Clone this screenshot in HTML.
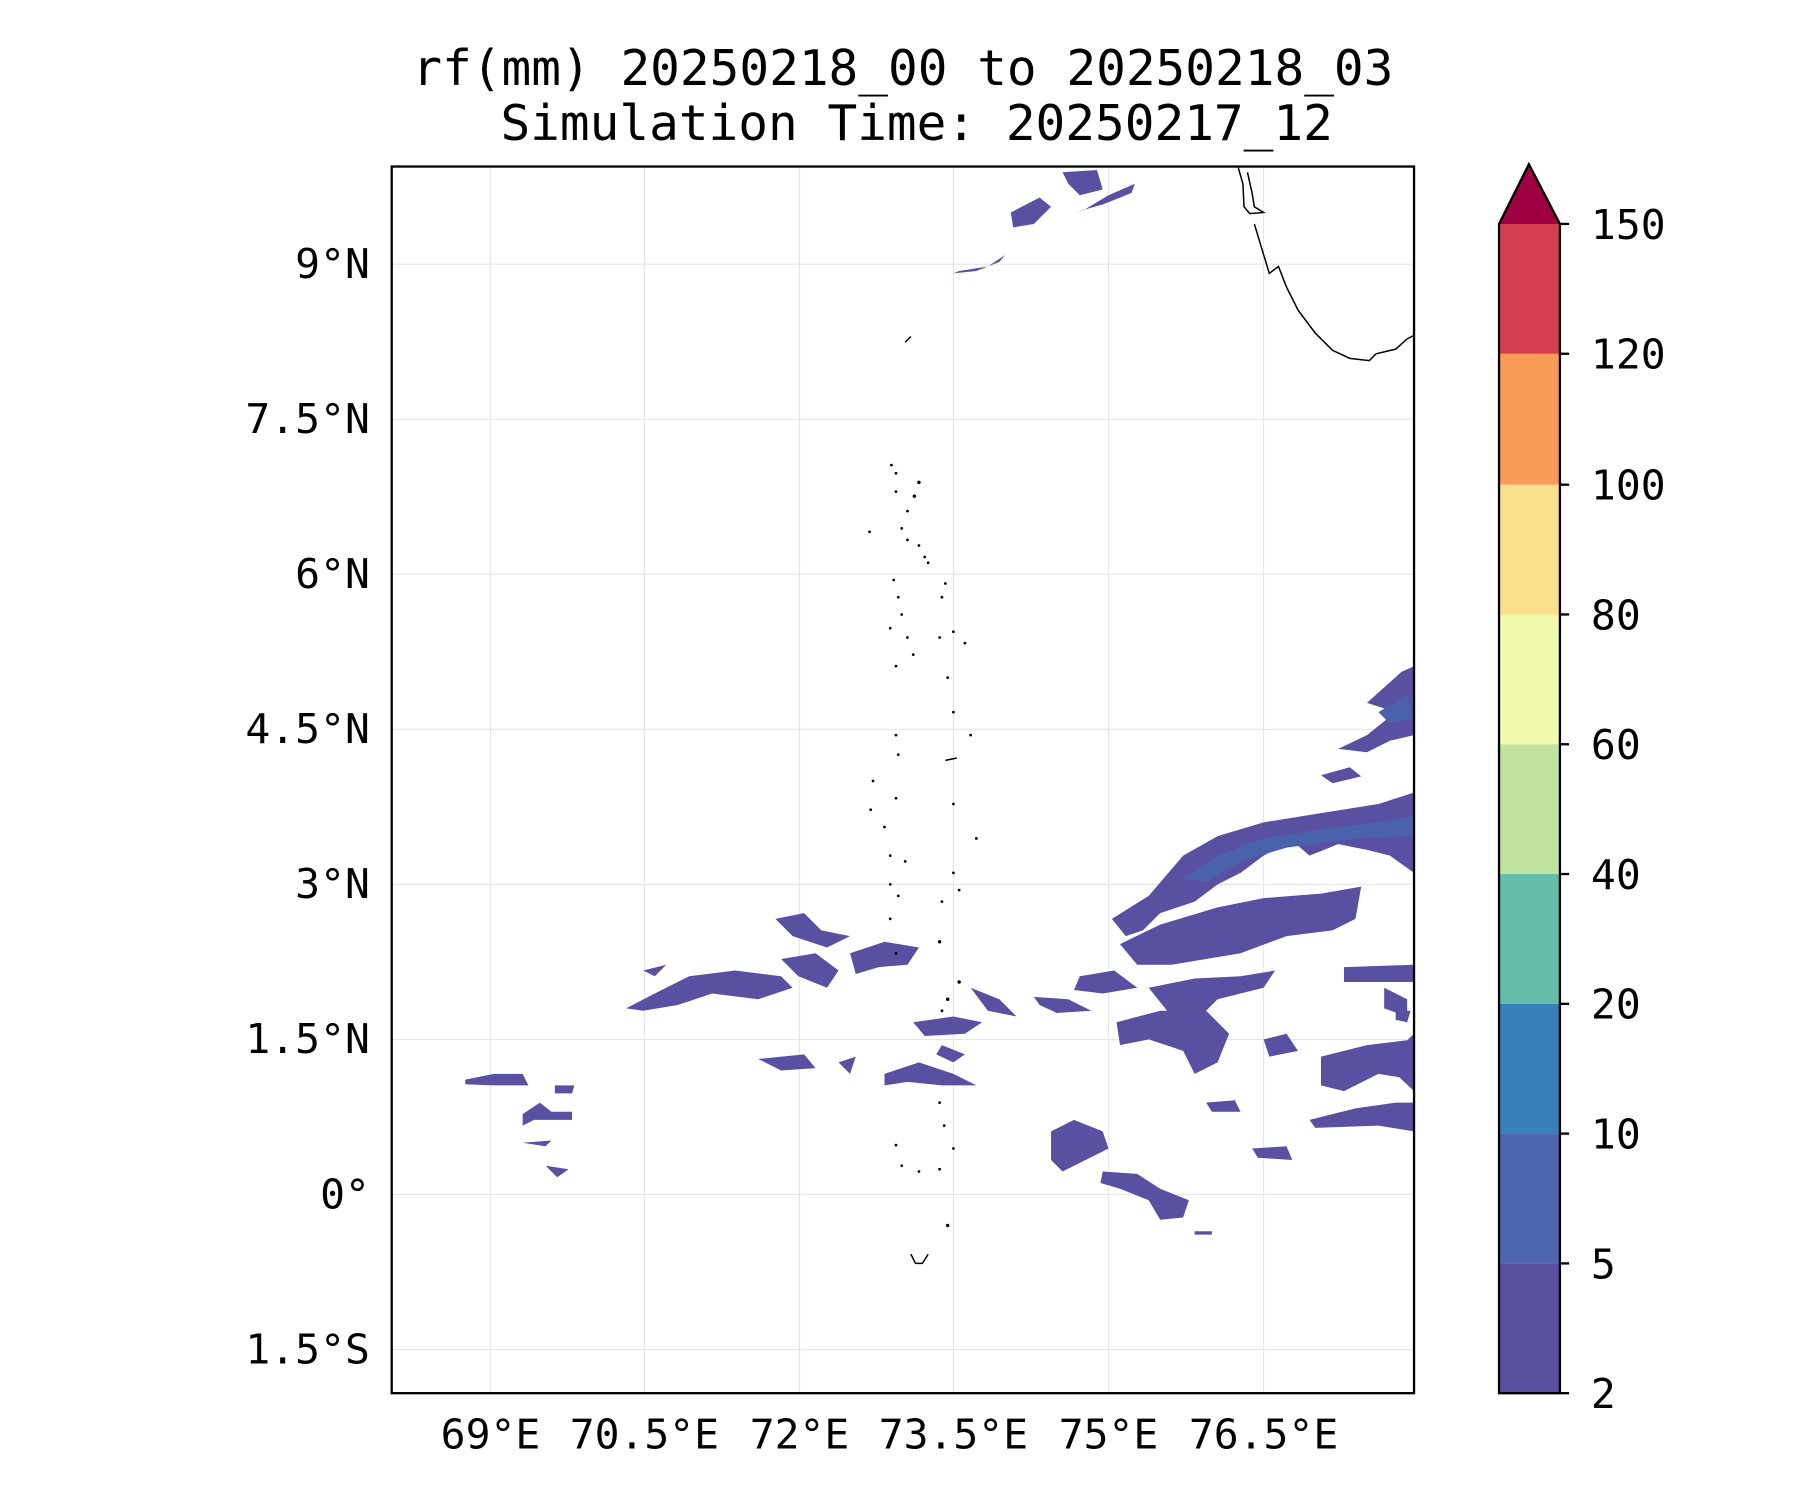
<!DOCTYPE html>
<html><head><meta charset="utf-8"><style>
html,body{margin:0;padding:0;background:#fff;width:1800px;height:1500px;overflow:hidden}
svg{display:block}
text{font-family:"DejaVu Sans Mono","Liberation Mono",monospace;fill:#000}
</style></head><body>
<svg width="1800" height="1500" viewBox="0 0 1567 1306" preserveAspectRatio="none" xmlns="http://www.w3.org/2000/svg">
<rect width="1567" height="1306" fill="#fff"/>
<text x="786" y="74" font-size="43" text-anchor="middle">rf(mm) 20250218_00 to 20250218_03</text>
<text x="798" y="122" font-size="43" text-anchor="middle">Simulation Time: 20250217_12</text>
<g stroke="#e6e6e6" stroke-width="1">
<line x1="427" y1="145" x2="427" y2="1213"/><line x1="561" y1="145" x2="561" y2="1213"/>
<line x1="696" y1="145" x2="696" y2="1213"/><line x1="830" y1="145" x2="830" y2="1213"/>
<line x1="965" y1="145" x2="965" y2="1213"/><line x1="1100" y1="145" x2="1100" y2="1213"/>
<line x1="341" y1="230" x2="1231" y2="230"/><line x1="341" y1="365" x2="1231" y2="365"/>
<line x1="341" y1="500" x2="1231" y2="500"/><line x1="341" y1="635" x2="1231" y2="635"/>
<line x1="341" y1="770" x2="1231" y2="770"/><line x1="341" y1="905" x2="1231" y2="905"/>
<line x1="341" y1="1040" x2="1231" y2="1040"/><line x1="341" y1="1175" x2="1231" y2="1175"/>
</g>
<g fill="#5a50a2">
<path d="M880,185 L905,172 L915,180 L900,195 L882,198Z"/>
<path d="M925,150 L955,148 L960,165 L940,170 L930,160Z"/>
<path d="M935,185 L960,178 L985,168 L988,160 L965,170 L945,182Z"/>
<path d="M830,238 L850,236 L870,228 L875,222 L860,232 L835,236Z"/>
<path d="M1190,612 L1220,585 L1231,580 L1231,640 L1210,645 L1190,655 L1165,652 L1190,640 L1215,620Z"/>
<path d="M1150,675 L1175,668 L1185,676 L1160,682Z"/>
<path d="M968,800 L1000,780 L1030,745 L1060,728 L1100,716 L1150,708 L1200,700 L1231,690 L1231,760 L1210,745 L1190,740 L1165,735 L1140,745 L1125,732 L1100,745 L1080,760 L1060,770 L1040,785 L1010,795 L995,810 L980,815Z"/>
<path d="M975,822 L1010,805 L1060,790 L1100,782 L1150,778 L1185,772 L1180,800 L1160,810 L1120,815 L1080,830 L1050,835 L1020,840 L990,840Z"/>
<path d="M1170,842 L1231,840 L1231,855 L1170,855Z"/>
<path d="M1000,860 L1040,852 L1080,850 L1110,845 L1100,860 L1060,870 L1040,890 L1020,885Z"/>
<path d="M940,850 L970,845 L990,860 L960,865 L935,862Z"/>
<path d="M972,890 L1010,880 L1050,880 L1070,900 L1060,925 L1040,935 L1030,915 L1000,905 L975,910Z"/>
<path d="M1100,905 L1120,900 L1130,915 L1105,920Z"/>
<path d="M1150,920 L1190,910 L1231,905 L1231,940 L1200,935 L1170,950 L1150,945Z"/>
<path d="M1140,975 L1180,965 L1215,960 L1231,960 L1231,985 L1200,980 L1145,982Z"/>
<path d="M1205,860 L1225,870 L1225,885 L1205,878Z"/>
<path d="M1090,1000 L1120,998 L1125,1010 L1095,1008Z"/>
<path d="M1050,960 L1075,958 L1080,968 L1055,968Z"/>
<path d="M675,800 L700,795 L715,810 L740,815 L720,825 L690,815Z"/>
<path d="M740,830 L770,820 L800,825 L790,840 L765,842 L745,848Z"/>
<path d="M680,835 L710,830 L730,845 L720,860 L695,850Z"/>
<path d="M560,845 L580,840 L570,850Z"/>
<path d="M545,878 L570,865 L600,850 L640,845 L680,850 L690,860 L660,870 L620,865 L590,875 L560,880Z"/>
<path d="M795,890 L830,885 L855,890 L840,900 L805,902Z"/>
<path d="M820,910 L840,918 L830,925 L815,918Z"/>
<path d="M845,860 L870,870 L885,885 L860,880Z"/>
<path d="M770,935 L800,925 L830,935 L850,945 L820,945 L790,942 L770,945Z"/>
<path d="M660,922 L700,918 L710,930 L680,932Z"/>
<path d="M730,925 L745,920 L740,935Z"/>
<path d="M900,868 L930,870 L950,880 L920,882 L905,875Z"/>
<path d="M915,985 L935,975 L960,985 L965,1000 L945,1010 L925,1020 L915,1010Z"/>
<path d="M960,1020 L990,1022 L1010,1035 L1035,1045 L1030,1060 L1010,1062 L1000,1045 L975,1035 L958,1030Z"/>
<path d="M405,940 L430,935 L455,935 L460,945 L430,945 L405,944Z"/>
<path d="M455,970 L470,960 L480,968 L498,968 L498,975 L465,975 L455,980Z"/>
<path d="M475,1015 L495,1018 L485,1025Z"/>
<path d="M455,995 L480,993 L475,998Z"/>
<path d="M483,945 L500,945 L498,952 L483,952Z"/>
<path d="M1040,1072 L1055,1072 L1055,1075 L1040,1075Z"/>
<path d="M1215,880 L1228,880 L1225,890 L1215,888Z"/>
<path d="M1210,920 L1231,900 L1231,950 L1215,935Z"/>
</g>
<g fill="#4a62ab">
<path d="M1030,765 L1060,745 L1100,730 L1150,722 L1200,716 L1231,710 L1231,728 L1180,730 L1120,738 L1080,750 L1050,768Z"/>
<path d="M1200,620 L1225,605 L1230,625 L1210,630Z"/>
</g>
<g fill="none" stroke="#000" stroke-width="1.3">
<path d="M1078,146 L1082,160 L1083,180 L1088,186 L1100,185 L1092,180 L1090,168 L1086,150"/>
<path d="M1092,195 L1098,215 L1105,238 L1113,232 L1120,250 L1130,270 L1145,290 L1160,305 L1175,312 L1192,314 L1198,308 L1215,304 L1225,295 L1231,292"/>
<path d="M788,298 L793,293"/>
<path d="M823,662 L833,660"/>
<path d="M793,1092 L797,1100 L803,1100 L808,1092"/>
</g>
<g fill="#000">
<circle cx="776" cy="405" r="1.2"/><circle cx="780" cy="412" r="1.2"/><circle cx="800" cy="420" r="1.5"/><circle cx="796" cy="432" r="1.5"/><circle cx="790" cy="445" r="1.2"/><circle cx="780" cy="428" r="1.2"/><circle cx="757" cy="463" r="1.2"/><circle cx="785" cy="460" r="1.2"/><circle cx="790" cy="470" r="1.2"/><circle cx="800" cy="475" r="1.2"/><circle cx="805" cy="485" r="1.2"/><circle cx="808" cy="490" r="1.2"/>
<circle cx="778" cy="505" r="1.2"/><circle cx="782" cy="520" r="1.2"/><circle cx="785" cy="535" r="1.2"/><circle cx="823" cy="508" r="1.2"/><circle cx="820" cy="520" r="1.2"/><circle cx="775" cy="547" r="1.2"/><circle cx="790" cy="555" r="1.2"/><circle cx="795" cy="570" r="1.2"/><circle cx="780" cy="580" r="1.2"/><circle cx="818" cy="555" r="1.2"/><circle cx="830" cy="550" r="1.2"/><circle cx="840" cy="560" r="1.2"/>
<circle cx="825" cy="590" r="1.2"/><circle cx="830" cy="620" r="1.2"/><circle cx="845" cy="640" r="1.2"/><circle cx="780" cy="640" r="1.2"/><circle cx="782" cy="657" r="1.2"/><circle cx="760" cy="680" r="1.2"/><circle cx="780" cy="695" r="1.2"/><circle cx="758" cy="705" r="1.2"/><circle cx="770" cy="720" r="1.2"/><circle cx="830" cy="700" r="1.2"/><circle cx="850" cy="730" r="1.2"/>
<circle cx="775" cy="745" r="1.2"/><circle cx="788" cy="750" r="1.2"/><circle cx="775" cy="770" r="1.2"/><circle cx="782" cy="780" r="1.2"/><circle cx="830" cy="760" r="1.2"/><circle cx="835" cy="775" r="1.2"/><circle cx="820" cy="785" r="1.2"/><circle cx="775" cy="800" r="1.2"/><circle cx="818" cy="820" r="1.5"/><circle cx="780" cy="830" r="1.2"/><circle cx="835" cy="855" r="1.5"/><circle cx="825" cy="870" r="1.5"/><circle cx="820" cy="880" r="1.2"/>
<circle cx="818" cy="960" r="1.2"/><circle cx="822" cy="980" r="1.2"/><circle cx="830" cy="1000" r="1.2"/><circle cx="780" cy="997" r="1.2"/><circle cx="785" cy="1015" r="1.2"/><circle cx="800" cy="1020" r="1.2"/><circle cx="818" cy="1018" r="1.2"/><circle cx="825" cy="1067" r="1.5"/>
</g>
<rect x="341" y="145" width="890" height="1068" fill="none" stroke="#000" stroke-width="2"/>
<g font-size="36" text-anchor="end">
<text x="322" y="242">9°N</text><text x="322" y="377">7.5°N</text><text x="322" y="512">6°N</text><text x="322" y="647">4.5°N</text><text x="322" y="782">3°N</text><text x="322" y="917">1.5°N</text><text x="322" y="1052">0°</text><text x="322" y="1187">1.5°S</text>
</g>
<g font-size="36" text-anchor="middle">
<text x="427" y="1261">69°E</text><text x="561" y="1261">70.5°E</text><text x="696" y="1261">72°E</text><text x="830" y="1261">73.5°E</text><text x="965" y="1261">75°E</text><text x="1100" y="1261">76.5°E</text>
</g>
<rect x="1305" y="1100" width="53" height="113" fill="#5a50a2"/>
<rect x="1305" y="987" width="53" height="113" fill="#4d66ae"/>
<rect x="1305" y="874" width="53" height="113" fill="#3a80b8"/>
<rect x="1305" y="761" width="53" height="113" fill="#63bda9"/>
<rect x="1305" y="648" width="53" height="113" fill="#bfe4a0"/>
<rect x="1305" y="535" width="53" height="113" fill="#f3faad"/>
<rect x="1305" y="422" width="53" height="113" fill="#fbe08b"/>
<rect x="1305" y="308" width="53" height="114" fill="#f99c5a"/>
<rect x="1305" y="195" width="53" height="113" fill="#d53e4f"/>
<path d="M1305,195 L1331,143 L1358,195Z" fill="#9e0142"/>
<path d="M1305,1213 L1305,195 L1331,143 L1358,195 L1358,1213Z" fill="none" stroke="#000" stroke-width="2"/>
<g stroke="#000" stroke-width="2">
<line x1="1358" y1="1213" x2="1366" y2="1213"/><line x1="1358" y1="1100" x2="1366" y2="1100"/><line x1="1358" y1="987" x2="1366" y2="987"/><line x1="1358" y1="874" x2="1366" y2="874"/><line x1="1358" y1="761" x2="1366" y2="761"/><line x1="1358" y1="648" x2="1366" y2="648"/><line x1="1358" y1="535" x2="1366" y2="535"/><line x1="1358" y1="422" x2="1366" y2="422"/><line x1="1358" y1="308" x2="1366" y2="308"/><line x1="1358" y1="195" x2="1366" y2="195"/>
</g>
<g font-size="36">
<text x="1385" y="1226">2</text><text x="1385" y="1113">5</text><text x="1385" y="1000">10</text><text x="1385" y="887">20</text><text x="1385" y="774">40</text><text x="1385" y="661">60</text><text x="1385" y="548">80</text><text x="1385" y="435">100</text><text x="1385" y="321">120</text><text x="1385" y="208">150</text>
</g>
</svg>
</body></html>
